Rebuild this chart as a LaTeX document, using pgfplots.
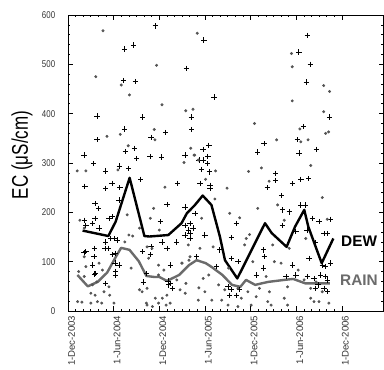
\documentclass[border=0pt]{standalone}
\usepackage{pgfplots}
\pgfplotsset{compat=1.18}
\usepackage{fontspec}
\setmainfont{Liberation Sans}
\definecolor{raingray}{gray}{0.42}
\definecolor{dotgray}{gray}{0.33}
\begin{document}
\begin{tikzpicture}
\begin{axis}[
  at={(0,0)}, anchor=south west,
  scale only axis, width=236.6pt, height=222pt,
  xmin=0, xmax=41.46, ymin=0, ymax=600,
  xtick={0,6,12,18,24,30,36},
  xticklabels={1-Dec-2003,1-Jun-2004,1-Dec-2004,1-Jun-2005,1-Dec-2005,1-Jun-2006,1-Dec-2006},
  minor x tick num=5,
  ytick={0,100,200,300,400,500,600},
  minor y tick num=4,
  tick align=inside,
  major tick length=3.5pt, minor tick length=1.8pt,
  every tick/.style={black, line width=0.5pt},
  axis line style={line width=0.7pt},
  /pgf/number format/assume math mode=true,
  tick label style={color=black!80},
  yticklabel style={font=\fontsize{7.4}{8}\selectfont, xscale=0.8, xshift=-8.5pt},
  xticklabel style={font=\fontsize{7.2}{8}\selectfont, rotate=90, anchor=east, yshift=-2.6pt},
  ylabel={\scalebox{0.75}[1]{EC (μS/cm)}},
  every axis y label/.style={at={(axis description cs:-0.146,0.527)}, rotate=90, anchor=center, font=\fontsize{17}{18}\selectfont},
  clip=false,
]
% DEW samples
\addplot[only marks, mark=+, mark size=2pt, black, mark options={line width=0.6pt}] table {
11.47 578
7.43 531
8.60 539
15.55 492
7.30 467
8.83 465
3.82 395
9.82 393
16.21 393
16.26 368
7.43 369
3.82 347
12.82 362
10.91 352
8.74 330
7.52 323
9.04 309
2.09 316
10.78 313
12.29 312
15.38 316
3.39 299
4.92 284
6.74 294
7.95 289
9.56 267
5.78 259
2.22 253
4.95 249
6.82 250
14.38 259
17.86 549
31.46 559
30.34 525
31.85 500
31.33 464
19.20 434
34.38 393
30.94 374
30.12 347
25.78 339
32.63 328
24.94 322
30.38 320
17.73 328
18.51 336
18.38 313
17.21 306
17.73 306
18.34 299
17.56 287
18.60 282
27.29 279
17.34 259
18.68 255
18.68 249
27.29 264
29.50 258
30.60 267
31.64 268
26.20 250
3.56 218
4.00 208
6.69 225
3.56 188
3.22 178
5.83 191
5.38 188
2.35 174
4.08 168
5.61 147
6.04 147
6.48 144
4.95 140
4.86 127
5.31 127
3.43 110
3.22 93
6.17 97
5.83 114
6.26 117
6.69 93
3.65 76
6.26 80
6.26 73
4.95 56
13.00 216
15.38 211
12.13 181
16.69 198
15.38 174
16.04 178
16.43 168
15.81 164
16.04 158
15.38 154
17.99 154
16.04 147
12.35 140
14.30 140
13.00 127
10.82 114
16.91 110
13.43 93
19.52 90
19.95 124
13.13 61
13.21 53
28.07 234
28.20 205
29.07 201
30.60 215
22.12 178
28.16 174
29.95 161
21.47 149
25.72 124
25.81 110
21.47 107
22.33 100
25.72 87
29.50 93
24.73 73
28.64 70
29.95 73
21.03 49
21.47 43
21.25 32
31.25 215
32.11 188
32.99 181
34.51 186
31.40 164
33.64 157
34.07 157
32.56 139
31.68 107
33.42 93
33.86 90
34.51 97
31.46 70
32.33 66
33.21 73
33.86 70
34.07 63
32.56 46
32.86 53
33.64 46
34.07 39
22.15 32
22.50 43
2.20 184
2.35 120
3.50 127
2.09 118
3.50 75
9.80 120
10.90 130
10.30 76
9.90 59
13.50 56
13.70 46
};
% RAIN samples
\addplot[only marks, mark=*, mark size=0.9pt, color=dotgray, mark options={draw=dotgray, fill=dotgray}] table {
4.60 568
16.99 563
11.64 498
3.65 475
7.00 458
8.08 438
12.35 418
15.48 406
16.43 409
11.34 368
6.87 358
5.12 354
11.43 347
7.91 335
16.56 316
17.12 306
15.25 301
1.21 284
2.35 284
6.56 286
12.74 251
29.47 495
29.37 522
33.60 457
34.38 445
29.47 426
33.60 404
24.51 380
30.47 369
33.86 360
34.25 363
27.42 347
30.60 343
31.55 347
16.13 330
16.65 316
31.90 295
23.73 283
25.42 290
19.39 284
18.08 267
26.43 263
20.90 249
1.56 184
7.78 195
2.13 168
8.00 154
7.47 140
2.13 110
4.08 97
1.40 80
2.35 90
2.13 70
4.52 83
3.22 53
5.38 49
3.78 59
3.00 36
3.56 32
4.73 39
5.48 32
1.26 19
1.83 18
3.87 19
4.43 16
6.04 16
3.00 16
9.74 39
11.25 208
19.30 227
10.82 188
17.56 188
15.81 134
10.39 130
11.04 127
17.34 127
19.07 130
10.60 107
16.04 110
11.90 93
14.95 97
11.90 73
14.30 63
17.77 66
10.39 46
14.73 43
17.99 39
11.47 26
13.00 32
10.39 12
11.90 16
13.43 16
17.12 22
19.80 53
20.20 22
15.40 36
27.55 215
24.94 208
22.56 189
21.25 198
28.42 184
23.43 147
23.21 134
23.86 155
26.90 134
29.07 127
24.29 100
27.12 100
28.00 97
26.04 70
22.33 46
23.64 39
25.16 46
26.47 39
28.85 49
22.78 26
24.73 29
26.25 19
28.42 26
21.03 12
22.33 9
24.08 12
26.69 12
28.85 12
30.25 83
31.03 63
33.42 230
34.07 186
31.25 147
31.90 46
33.42 39
31.90 26
32.33 19
32.99 19
34.29 16
32.60 59
8.30 87
9.40 43
10.30 16
11.10 9
12.40 26
12.90 12
8.50 152
9.40 168
12.00 164
12.60 83
15.00 97
15.90 103
15.50 56
17.20 47
18.50 73
18.90 22
20.60 43
21.10 87
};
% DEW smoothed line
\addplot[black, line width=1.8pt, line join=round] table {
1.92 163
5.30 152
6.26 181
8.10 270
10.04 152
10.70 151
13.18 154
14.92 178
15.62 198
16.69 215
17.70 234
18.85 215
19.96 151
20.63 103
22.25 66
25.89 178
26.77 158
28.73 130
29.84 171
31.05 205
31.58 171
33.34 97
34.87 147
};
% RAIN smoothed line
\addplot[raingray, line width=1.8pt, line join=round] table {
1.24 73
2.60 50
3.90 59
5.15 78
6.26 109
6.98 128
8.08 124
9.30 101
10.30 71
11.34 69
12.00 69
13.00 61
14.60 73
15.90 93
16.90 103
18.10 97
18.90 89
20.30 73
21.55 53
22.65 49
23.40 63
24.60 53
26.30 59
28.40 63
29.60 65
31.20 56
32.90 56
34.40 56
};
\node[anchor=west, inner sep=0pt, font=\fontsize{11.5}{12}\selectfont\bfseries, black] at (axis cs:35.87,141) {DEW};
\node[anchor=west, inner sep=0pt, font=\fontsize{11.5}{12}\selectfont\bfseries, raingray] at (axis cs:35.74,62) {RAIN};
\end{axis}
\pgfresetboundingbox
\path[use as bounding box] (-51pt,-43.5pt) rectangle (237pt,233.25pt);
\end{tikzpicture}
\end{document}
